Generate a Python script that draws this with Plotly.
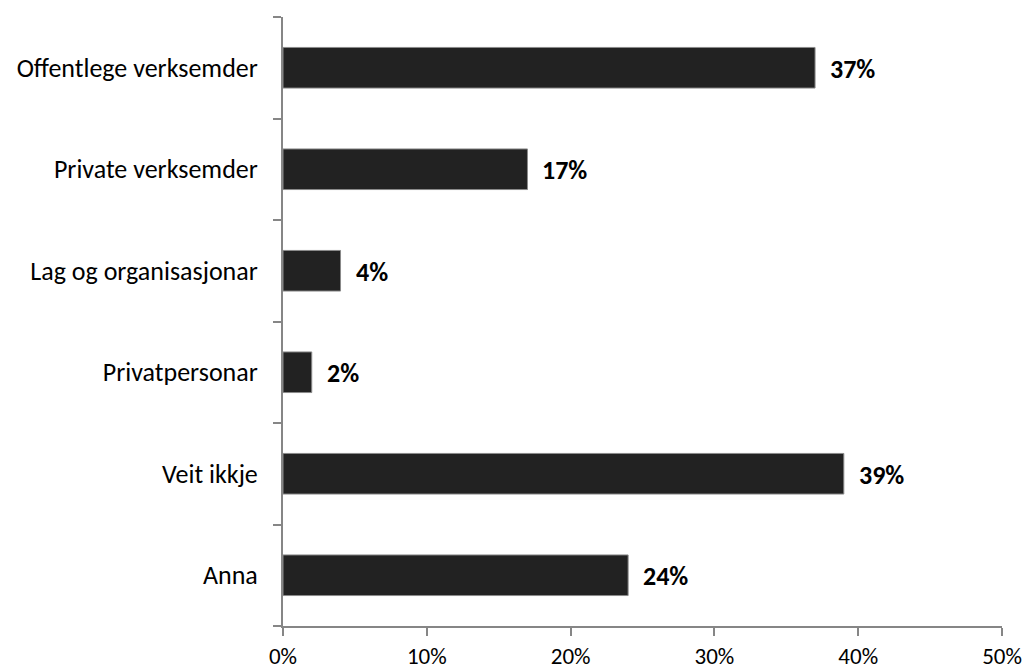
import plotly.graph_objects as go

categories = ["Offentlege verksemder", "Private verksemder", "Lag og organisasjonar",
              "Privatpersonar", "Veit ikkje", "Anna"]
values = [0.37, 0.17, 0.04, 0.02, 0.39, 0.24]
x_ticks = [0, 0.1, 0.2, 0.3, 0.4, 0.5]
x_tick_labels = ["0%", "10%", "20%", "30%", "40%", "50%"]
value_labels = [f"{round(v*100)}%" for v in values]

FONT = "Carlito, Calibri, Lato, sans-serif"
AXIS = "#868686"

fig = go.Figure()
fig.add_trace(go.Bar(
    y=categories, x=values, orientation="h",
    marker=dict(color="#222222", line=dict(color="#8a8a8a", width=1)),
    hoverinfo="skip",
))
for c, v, t in zip(categories, values, value_labels):
    fig.add_annotation(x=v, y=c, text=f"<b>{t}</b>", showarrow=False,
                       xanchor="left", xshift=13, yshift=-1,
                       font=dict(family=FONT, size=26, color="#000000"))

fig.update_layout(
    width=1029, height=670,
    margin=dict(l=283, r=27, t=17, b=44),
    paper_bgcolor="white", plot_bgcolor="white",
    bargap=0.6, showlegend=False,
    font=dict(family=FONT, size=26, color="#000000"),
)
fig.update_xaxes(range=[0, 0.5], tickvals=x_ticks, ticktext=x_tick_labels,
                 tickfont=dict(size=23),
                 showgrid=False, zeroline=False, showline=True, linecolor=AXIS, linewidth=2,
                 ticks="outside", ticklen=8, tickcolor=AXIS, tickwidth=2,
                 ticklabelstandoff=0, automargin=False, fixedrange=True)
fig.update_yaxes(categoryorder="array", categoryarray=categories[::-1],
                 showgrid=False, zeroline=False, showline=True, linecolor=AXIS, linewidth=2,
                 ticks="outside", ticklen=8, tickcolor=AXIS, tickwidth=2,
                 tickson="boundaries", ticklabelstandoff=18, automargin=False,
                 fixedrange=True)

fig.write_html("out.html")
